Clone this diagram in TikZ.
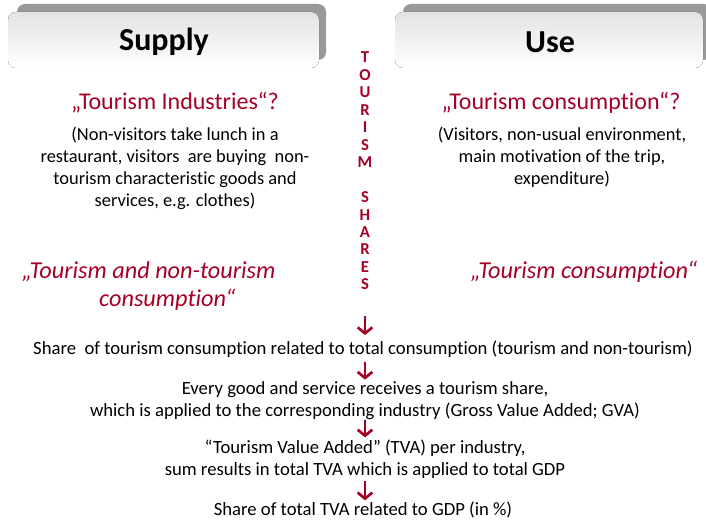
\documentclass[tikz,border=0pt]{standalone}
\usepackage{fontspec}
\setmainfont{Carlito}[Ligatures={NoCommon}]
\usetikzlibrary{arrows.meta}
\definecolor{dred}{RGB}{166,0,38}
\definecolor{shadowgray}{RGB}{153,153,153}
\begin{document}
\begin{tikzpicture}[x=0.75pt,y=-0.75pt,
  tabshadow/.style={fill=shadowgray,draw=none,rounded corners=6pt},
  tabfront/.style={top color=black!11,bottom color=white,draw=none,rounded corners=6pt},
  tabtext/.style={font=\fontsize{24}{28}\selectfont\bfseries,text=black},
  redtitle/.style={font=\fontsize{18}{22}\selectfont,text=dred},
  redital/.style={font=\fontsize{18.2}{21}\selectfont\itshape,text=dred,align=center},
  bodytext/.style={font=\fontsize{13.8}{16.5}\selectfont,align=center,text=black},
  flowtext/.style={font=\fontsize{14}{16.5}\selectfont,align=center,text=black,inner sep=0pt},
  redarrow/.style={draw=dred,line width=2pt,-{Straight Barb[length=4.5pt,width=11pt]}}
]
\useasboundingbox[fill=white] (0,0) rectangle (706,520);
% tabs
\fill[tabshadow] (17,4) rectangle (326,60);
\fill[tabfront] (8,12) rectangle (319,68);
\node[tabtext] (supply) at (164,42) {Supply};
\fill[tabshadow] (403,4) rectangle (712,60);
\fill[tabfront] (395,12) rectangle (703,68);
\node[tabtext] (use) at (550,42) {Use};
% vertical text
\node[font=\fontsize{12.5}{13.1}\selectfont\bfseries,text=dred,align=center,inner sep=0pt] (ts) at (365,171)
  {T\\O\\U\\R\\I\\S\\M\\[13.1pt]S\\H\\A\\R\\E\\S};
% left column
\node[redtitle] (lt) at (175,103) {„Tourism Industries“?};
\node[bodytext] (lb) at (175,168) {(Non-visitors take lunch in a\\restaurant, visitors\ \ are buying\ \ non-\\tourism characteristic goods and\\services, e.g. clothes)};
\node[redital] (li) at (158,286) {„Tourism and non-tourism\hspace*{14pt}\\\hspace*{14pt}consumption“};
% right column
\node[redtitle] (rt) at (561,103) {„Tourism consumption“?};
\node[bodytext] (rb) at (562,157) {(Visitors, non-usual environment,\\main motivation of the trip,\\expenditure)};
\node[redital] (ri) at (584,272) {„Tourism consumption“};
% flow
\node[flowtext] (s1) at (363,349) {Share\ \ of tourism consumption related to total consumption (tourism and non-tourism)};
\node[flowtext] (s2) at (365,401) {Every good and service receives a tourism share,\\which is applied to the corresponding industry (Gross Value Added; GVA)};
\node[flowtext] (s3) at (365,459) {“Tourism Value Added” (TVA) per industry,\\sum results in total TVA which is applied to total GDP};
\node[flowtext] (s4) at (363,510) {Share of total TVA related to GDP (in \%)};
\draw[redarrow,shorten <=19pt,shorten >=4pt] (ts.south) -- (ts.south |- s1.north);
\draw[redarrow,shorten <=3pt,shorten >=1.5pt] (s1.south -| ts.south) -- (s2.north -| ts.south);
\draw[redarrow,shorten <=0pt,shorten >=1.5pt] (s2.south -| ts.south) -- (s3.north -| ts.south);
\draw[redarrow,shorten <=2pt,shorten >=1pt] (s3.south -| ts.south) -- (s4.north -| ts.south);
\end{tikzpicture}
\end{document}
